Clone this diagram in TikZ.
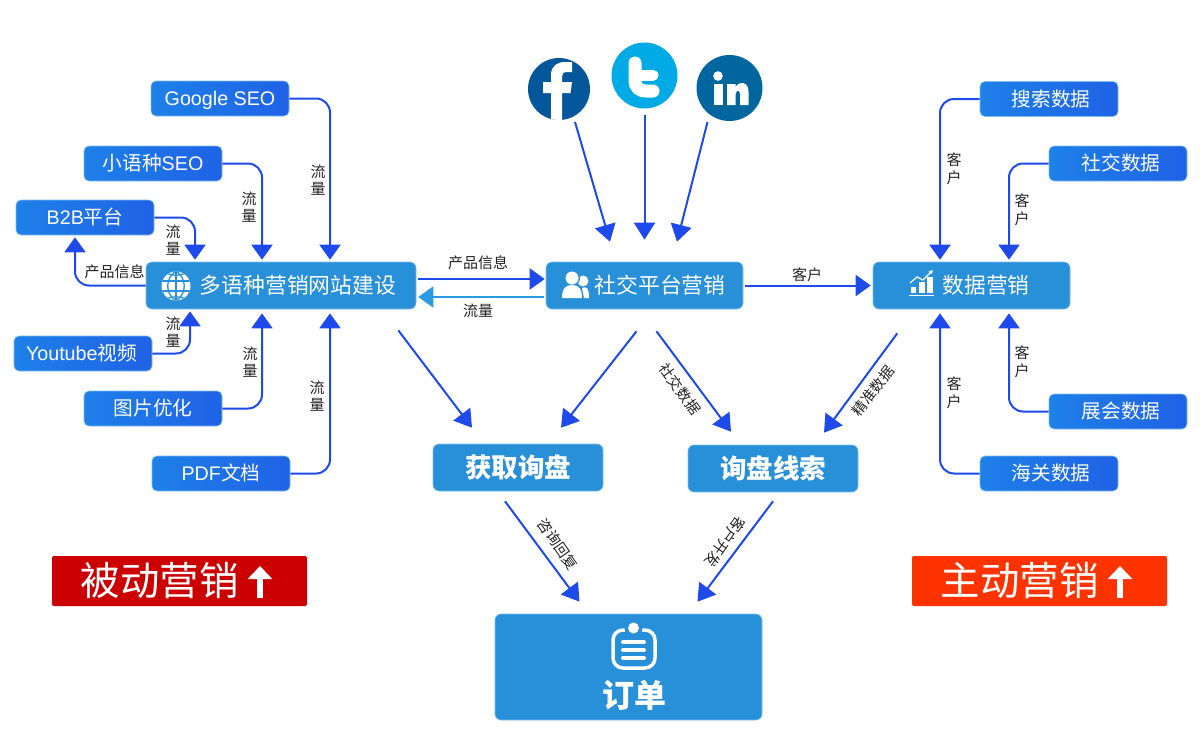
\documentclass[tikz,border=0pt]{standalone}
\usepackage{fontspec}
\setmainfont{Noto Sans CJK SC}
\newfontfamily\latinf{Liberation Sans}
\usetikzlibrary{arrows.meta,calc}
\definecolor{boxblue}{HTML}{288FD9}
\definecolor{boxedge}{HTML}{7FBDEB}
\definecolor{arrowblue}{HTML}{1F4AEB}
\definecolor{backblue}{HTML}{2A9BE3}
\definecolor{gradA}{HTML}{1E80E8}
\definecolor{gradB}{HTML}{1D4EE8}
\definecolor{gradC}{HTML}{1F62E6}
\definecolor{fbblue}{HTML}{04579B}
\definecolor{twblue}{HTML}{00AAE4}
\definecolor{liblue}{HTML}{01659E}
\definecolor{redA}{HTML}{CC0000}
\definecolor{redB}{HTML}{FF3300}
\definecolor{labelgrey}{HTML}{222222}
\tikzset{
  x=1pt,y=-1pt,
  srcbox/.style={draw=boxedge,line width=.6pt,rounded corners=5pt,left color=gradA,middle color=gradB,right color=gradC,text=white,minimum width=138pt,minimum height=35pt,inner sep=0pt,text height=16pt,text depth=2pt,font=\fontsize{19.7}{24}\selectfont},
  mainbox/.style={draw=boxedge,line width=.6pt,rounded corners=6pt,fill=boxblue,text=white,inner sep=0pt,font=\fontsize{21.8}{26}\selectfont},
  leadbox/.style={mainbox,minimum width=170pt,minimum height=47pt,font=\fontsize{26.5}{30}\selectfont\bfseries},
  tagbox/.style={rounded corners=2pt,text=white,minimum width=255pt,minimum height=50pt,inner sep=0pt,font=\fontsize{39.5}{44}\selectfont},
  tagarrow/.style={white,line width=6.5pt,-{Triangle[length=13pt,width=24pt]}},
  arr/.style={draw=arrowblue,line width=2pt,-{Triangle[length=15pt,width=21pt]}},
  diag/.style={draw=arrowblue,line width=2pt,-{Triangle[length=17pt,width=21pt]}},
  elbow/.style={arr,rounded corners=14pt},
  lab/.style={font=\fontsize{15}{17.5}\selectfont,text=labelgrey,inner sep=0pt,align=center},
  tilted/.style={lab,font=\fontsize{14.5}{17}\selectfont},
  logo/.style={circle,inner sep=0pt},
}
\begin{document}
\begin{tikzpicture}
\useasboundingbox (0,0) rectangle (1200,750);

% source boxes
\node[srcbox] (google) at (220,98.5) {\latinf Google SEO};
\node[srcbox] (xiao) at (153,163.5) {小语种{\latinf SEO}};
\node[srcbox] (b2b) at (85,217.5) {{\latinf B2B}平台};
\node[srcbox] (yt) at (83,353.5) {\hspace*{-3pt}{\latinf Youtube}视频};
\node[srcbox] (img) at (153,408.5) {图片优化};
\node[srcbox] (pdf) at (221,473.5) {{\latinf PDF}文档};
\node[srcbox] (sousuo) at (1049,99) {\hspace*{4pt}搜索数据};
\node[srcbox] (shejiao) at (1118,163.5) {\hspace*{6pt}社交数据};
\node[srcbox] (zhanhui) at (1118,411.5) {\hspace*{6pt}展会数据};
\node[srcbox] (haiguan) at (1049,473.5) {\hspace*{4pt}海关数据};

% main boxes
\node[mainbox,minimum width=270pt,minimum height=47pt] (site) at (281,285.5) {\hspace*{34pt}多语种营销网站建设};
\node[mainbox,minimum width=197pt,minimum height=47pt] (social) at (644.5,285.5) {\hspace*{31pt}社交平台营销};
\node[mainbox,minimum width=197pt,minimum height=47pt] (data) at (971.5,285.5) {\hspace*{29pt}数据营销};
\node[leadbox] (inq) at (518,467.5) {获取询盘};
\node[leadbox] (lead) at (773,468.5) {询盘线索};
\node[mainbox,minimum width=267pt,minimum height=106pt,font=\fontsize{32}{36}\selectfont\bfseries] (order) at (628.5,667) {\hspace*{11pt}\raisebox{-40pt}[0pt][0pt]{订单}};

% tag boxes
\node[tagbox,fill=redA] (passive) at (179.5,581) {\hspace*{-40pt}被动营销};
\node[tagbox,fill=redB] (active) at (1039.5,581) {\hspace*{-40pt}主动营销};
\draw[tagarrow] ([shift={(80.5,17)}]passive.center) -- ([shift={(80.5,-15)}]passive.center);
\draw[tagarrow] ([shift={(80.5,17)}]active.center) -- ([shift={(80.5,-15)}]active.center);

% social logos
\node[logo,fill=fbblue,minimum size=62pt] (fb) at (559,89) {};
\node[logo,fill=twblue,minimum size=66pt] (tw) at (644.5,75.5) {};
\node[logo,fill=liblue,minimum size=66pt] (li) at (729.5,88) {};
\begin{scope}
\clip (fb) circle (31);
\fill[white] (551,120)--(551,93)--(543,93)--(543,82)--(551,82)--(551,75) .. controls (551,66) and (557,62) .. (565,62)--(572,62)--(572,72)--(567,72) .. controls (563,72) and (562,74) .. (562,77)--(562,82)--(572,82)--(570.5,93)--(562,93)--(562,120)--cycle;
\end{scope}
\draw[white,line width=13pt,line cap=round] (635,63)--(635,80) .. controls (635,88) and (640,91) .. (646,91)--(653,91);
\draw[white,line width=11pt,line cap=round] (635,75)--(653,75);
\fill[white] (718,76) circle (4.8);
\fill[white] (713.5,84) rectangle (722.5,105);
\fill[white] (727,84)--(735.5,84)--(735.5,87) .. controls (738,83) and (741,83) .. (743,83) .. controls (747,84) and (748.5,87) .. (748.5,92)--(748.5,105)--(740,105)--(740,94) .. controls (740,90) and (736,89) .. (735.5,95)--(735.5,105)--(727,105)--cycle;

% globe icon
\fill[white] (176,286) circle (14.5);
\begin{scope}[draw=boxblue,line width=1.3pt]
\clip (176,286) circle (14.5);
\draw (176,271)--(176,301);
\draw (161,281)--(191,281) (161,291)--(191,291);
\draw (176,271) .. controls (165,278) and (165,294) .. (176,301);
\draw (176,271) .. controls (187,278) and (187,294) .. (176,301);
\draw (166,273) .. controls (172,276) and (180,276) .. (186,273);
\draw (166,299) .. controls (172,296) and (180,296) .. (186,299);
\end{scope}

% people icon
\fill[white] (583,281) circle (5.5);
\fill[white] (582,288) .. controls (587,286) and (589,288) .. (589,298)--(584,298)--cycle;
\fill[boxblue] (572,278) circle (8);
\fill[white] (572,278) circle (6.5);
\fill[white] (562,298) .. controls (562,288) and (566,285) .. (572,285) .. controls (578,285) and (582,288) .. (582,298)--cycle;

% chart icon
\fill[white] (911,287) rectangle (916,293);
\fill[white] (919,282) rectangle (925,293);
\fill[white] (927,277) rectangle (933,293);
\draw[white,line width=1.2pt] (909,295.5)--(934,295.5);
\draw[white,line width=1.2pt,-{Triangle[length=4pt,width=4pt]}] (910,283)--(917,277)--(923,280)--(933,270);

% clipboard icon
\draw[white,line width=3.5pt,rounded corners=10pt] (613,630) rectangle (655,668);
\fill[boxblue] (633.5,628) circle (9);
\fill[white] (633.5,628) circle (5.5);
\draw[white,line width=4pt,line cap=round] (623,642)--(644,642) (623,650)--(644,650) (623,657.5)--(644,657.5);

% elbow connectors into the site box
\draw[elbow] (google.east) -| ([shift={(49,-2)}]site.north);
\draw[elbow] (xiao.east) -| ([shift={(-19,-2)}]site.north);
\draw[elbow] (b2b.east) -| ([shift={(-86,-2)}]site.north);
\draw[elbow] (site.west) -| ([shift={(-10,2)}]b2b.south);
\draw[elbow] (yt.east) -| ([shift={(-91,2)}]site.south);
\draw[elbow] (img.east) -| ([shift={(-19,4)}]site.south);
\draw[elbow] (pdf.east) -| ([shift={(49,4)}]site.south);

% elbow connectors into the data box
\draw[elbow] (sousuo.west) -| ([shift={(-31.5,-2)}]data.north);
\draw[elbow] (shejiao.west) -| ([shift={(37.5,-2)}]data.north);
\draw[elbow] (zhanhui.west) -| ([shift={(37.5,4)}]data.south);
\draw[elbow] (haiguan.west) -| ([shift={(-31.5,4)}]data.south);

% horizontal connectors
\draw[arr] ([shift={(2,-6.5)}]site.east) -- ([shift={(-1,-6.5)}]social.west);
\draw[arr,draw=backblue] ([shift={(-2,11.5)}]social.west) -- ([shift={(2,11.5)}]site.east);
\draw[arr] ([shift={(2,0)}]social.east) -- ([shift={(-2,0)}]data.west);

% logos to social box
\draw[diag] ([shift={(16,33)}]fb.center) -- ([shift={(-34.5,-20)}]social.north);
\draw[diag] ([shift={(0,39.5)}]tw.center) -- ([shift={(0,-22)}]tw.center |- social.north);
\draw[diag] ([shift={(-22,34)}]li.center) -- ([shift={(32.5,-20)}]social.north);

% diagonals to the lead boxes and the order box
\draw[diag] ([shift={(-18,21)}]site.south east) -- ([shift={(-46,-16)}]inq.north);
\draw[diag] ([shift={(-8,22)}]social.south) -- ([shift={(43,-16)}]inq.north);
\draw[diag] ([shift={(12,22)}]social.south) -- ([shift={(-42,-13)}]lead.north);
\draw[diag] ([shift={(-173,24)}]data.south east) -- ([shift={(51,-12)}]lead.north);
\draw[diag] ([shift={(-13,10)}]inq.south) -- ([shift={(-49,-12)}]order.north);
\draw[diag] ([shift={(0,9)}]lead.south) -- ([shift={(69,-12)}]order.north);

% labels
\node[lab] (l1) at (318,180) {流\\量};
\node[lab] (l2) at (249,207) {流\\量};
\node[lab] (l3) at (173,240) {流\\量};
\node[lab] (l4) at (173,332) {流\\量};
\node[lab] (l5) at (250,362) {流\\量};
\node[lab] (l6) at (317,396) {流\\量};
\node[lab] (l7) at (114.5,271.5) {产品信息};
\node[lab] (l8) at (478,263) {产品信息};
\node[lab] (l9) at (478,311) {流量};
\node[lab] (l10) at (807,275) {客户};
\node[lab] (l11) at (954,169) {客\\户};
\node[lab] (l12) at (1022,210) {客\\户};
\node[lab] (l13) at (1022,362) {客\\户};
\node[lab] (l14) at (954,393) {客\\户};
\node[tilted,rotate=-54] (l15) at (680,389) {社交数据};
\node[tilted,rotate=52] (l16) at (873,391) {精准数据};
\node[tilted,rotate=-55] (l17) at (558,544) {咨询回复};
\node[tilted,rotate=-125] (l18) at (725,542) {客户开发};
\end{tikzpicture}
\end{document}
